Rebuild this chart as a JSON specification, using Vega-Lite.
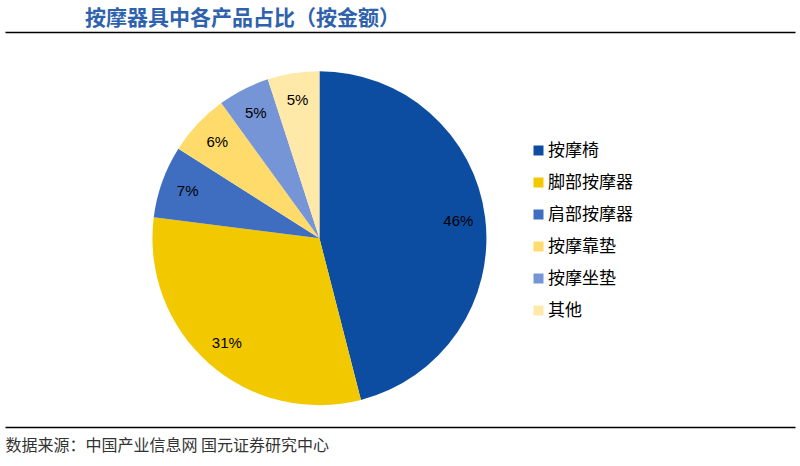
{
  "$schema": "https://vega.github.io/schema/vega-lite/v6.json",
  "width": 790,
  "height": 395,
  "autosize": {"type": "none"},
  "padding": {"left": 5, "top": 32, "right": 5, "bottom": 39},
  "background": "#ffffff",
  "title": {
    "text": "按摩器具中各产品占比（按金额）",
    "anchor": "start",
    "dx": 80,
    "dy": 2,
    "offset": 5,
    "baseline": "top",
    "font": "Noto Sans CJK SC",
    "fontSize": 21,
    "fontWeight": "bold",
    "color": "#2F62AC"
  },
  "data": {
    "values": [
      {"product": "按摩椅", "share": 0.46},
      {"product": "脚部按摩器", "share": 0.31},
      {"product": "肩部按摩器", "share": 0.07},
      {"product": "按摩靠垫", "share": 0.06},
      {"product": "按摩坐垫", "share": 0.05},
      {"product": "其他", "share": 0.05}
    ]
  },
  "encoding": {
    "theta": {"field": "share", "type": "quantitative", "stack": true},
    "order": {"field": "share", "type": "quantitative", "sort": "descending"},
    "y": {"datum": 47.8, "type": "quantitative", "scale": {"domain": [0, 100]}, "axis": null}
  },
  "layer": [
    {
      "mark": {"type": "arc", "radius": 167, "strokeWidth": 0},
      "encoding": {
        "x": {
          "datum": 39.8,
          "type": "quantitative",
          "scale": {"domain": [0, 100]},
          "axis": {
            "orient": "bottom",
            "domain": true,
            "domainColor": "#000000",
            "domainWidth": 1.5,
            "ticks": false,
            "labels": false,
            "grid": false,
            "title": "数据来源：中国产业信息网 国元证券研究中心",
            "titleAnchor": "start",
            "titleAlign": "left",
            "titleBaseline": "top",
            "titlePadding": 10,
            "titleFont": "Noto Sans CJK SC",
            "titleFontSize": 16,
            "titleFontWeight": "normal",
            "titleColor": "#333333"
          }
        },
        "color": {
          "field": "product",
          "type": "nominal",
          "scale": {
            "domain": ["按摩椅", "脚部按摩器", "肩部按摩器", "按摩靠垫", "按摩坐垫", "其他"],
            "range": ["#0C4DA2", "#F2C800", "#3F6EC0", "#FEDB6B", "#7595D6", "#FFE9A9"]
          },
          "legend": {
            "orient": "none",
            "legendX": 525,
            "legendY": 110,
            "title": null,
            "padding": 0,
            "symbolType": "square",
            "symbolSize": 100,
            "symbolStrokeWidth": 0,
            "labelFont": "Noto Sans CJK SC",
            "labelFontSize": 17,
            "labelColor": "#000000",
            "labelOffset": 1,
            "rowPadding": 14
          }
        }
      }
    },
    {
      "mark": {"type": "text", "radius": 140, "font": "Liberation Sans", "fontSize": 15, "color": "#000000"},
      "encoding": {
        "x": {
          "datum": 39.8,
          "type": "quantitative",
          "scale": {"domain": [0, 100]},
          "axis": {
            "orient": "top",
            "domain": true,
            "domainColor": "#000000",
            "domainWidth": 1.5,
            "ticks": false,
            "labels": false,
            "grid": false,
            "title": null
          }
        },
        "text": {"field": "share", "type": "quantitative", "format": ".0%"}
      }
    }
  ],
  "resolve": {"scale": {"x": "independent"}, "axis": {"x": "independent"}},
  "config": {"view": {"stroke": null}}
}
